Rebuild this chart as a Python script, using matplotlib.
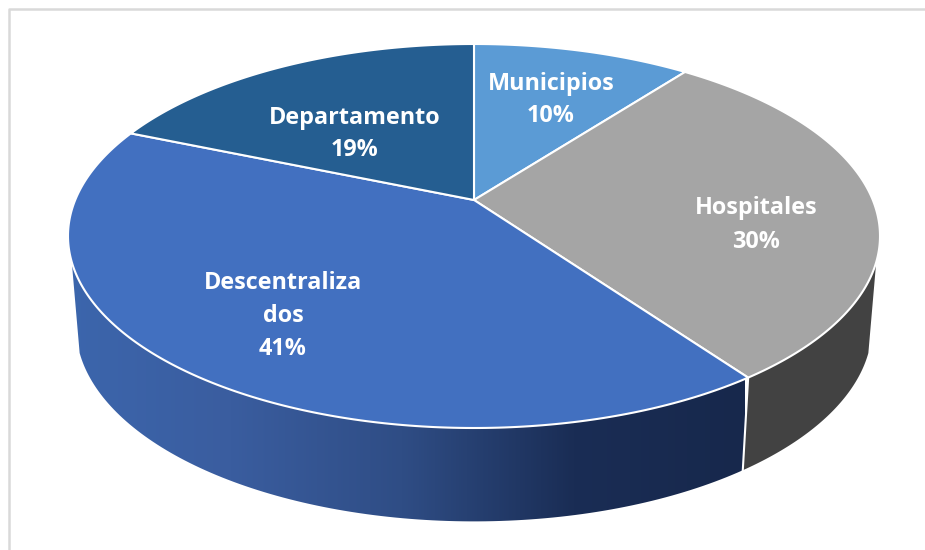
import numpy as np
import matplotlib
matplotlib.use('Agg')
import matplotlib.pyplot as plt
from matplotlib.patches import Polygon
from matplotlib.colors import LinearSegmentedColormap

# datos
labels = ['Municipios', 'Hospitales', 'Descentraliza\ndos', 'Departamento']
values = [10.4, 29.7, 41.2, 18.7]
colors = ['#5b9bd5', '#a5a5a5', '#4270c0', '#255e91']

# centro de cada etiqueta, en pixeles
label_x = [551, 756, 283, 355]
label_y = [100, 225, 316, 134]

# perspectiva del disco
cx, cy = 474, 200
A, B, p = 398.8, 185.25, 0.1875
A2, B2, cy2 = 391, 188, 290
wall_from, wall_to = 108.4, 251.6


def top(t):
    t = np.radians(t)
    w = 1 + p * np.cos(t)
    return cx + A * np.sin(t) / w, cy - B * np.cos(t) / w


def bottom(t):
    t = np.radians(t)
    w = 1 + p * np.cos(t)
    return cx + A2 * np.sin(t) / w, cy2 - B2 * np.cos(t) / w


fig = plt.figure(figsize=(9.25, 5.5), dpi=100)
ax = fig.add_axes([0, 0, 1, 1])
ax.set_xlim(0, 925)
ax.set_ylim(550, 0)
ax.axis('off')

# marco gris
ax.plot([9, 9, 925], [550, 9, 9], color='#d9d9d9', lw=1.8, zorder=1)

edges = np.concatenate([[0], np.cumsum(values)]) * 360.0 / sum(values)


def wall_points(t0, t1):
    ts = np.linspace(t0, t1, 120)
    x1, y1 = top(ts)
    x2, y2 = bottom(ts)
    return np.column_stack([np.r_[x1, x2[::-1]], np.r_[y1, y2[::-1]]])


# pared de Hospitales
ax.add_patch(Polygon(wall_points(wall_from, edges[2]), fc='#424242', ec='none', zorder=2))

# pared de Descentralizados con degradado
wall = Polygon(wall_points(edges[2], wall_to), fc='none', ec='none', zorder=2)
ax.add_patch(wall)
cmap = LinearSegmentedColormap.from_list('wall', ['#3c66ad', '#3a5d9f', '#2f4d85', '#1a2d55', '#17284c'])
img = ax.imshow(np.linspace(0, 1, 256)[np.newaxis, :], cmap=cmap, aspect='auto',
                extent=[60, 745, 530, 240], zorder=2)
img.set_clip_path(wall)
ax.set_xlim(0, 925)
ax.set_ylim(550, 0)

# linea blanca entre paredes
x1, y1 = top(edges[2])
x2, y2 = bottom(edges[2])
ax.plot([x1, x2], [y1, y2], color='white', lw=1.5, zorder=3)

# cara superior
for i in range(len(values)):
    ts = np.linspace(edges[i], edges[i + 1], 200)
    xs, ys = top(ts)
    pts = np.column_stack([np.r_[cx, xs], np.r_[cy, ys]])
    ax.add_patch(Polygon(pts, closed=True, fc=colors[i], ec='white', lw=1.5,
                         joinstyle='round', zorder=4))

for i in range(len(values)):
    ax.text(label_x[i], label_y[i], '%s\n%.0f%%' % (labels[i], values[i]),
            ha='center', va='center', color='white', fontsize=16.8,
            family='Open Sans', fontweight='bold', linespacing=1.5, zorder=5)

fig.savefig('out.png', dpi=100)
